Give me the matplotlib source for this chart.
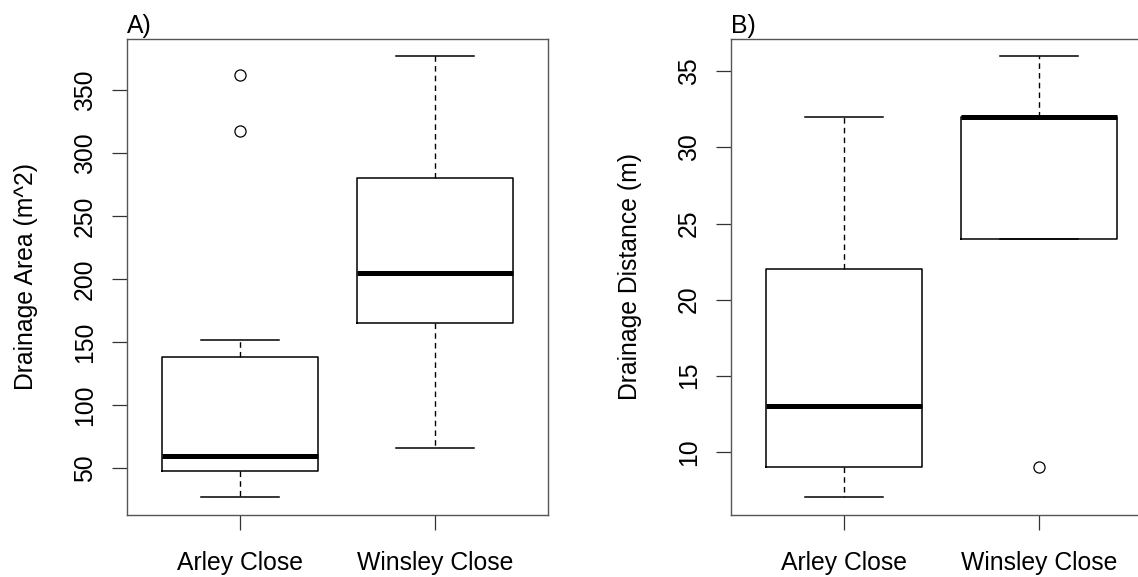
import matplotlib.pyplot as plt

plt.rcParams['font.family'] = ['Liberation Sans', 'DejaVu Sans']

groups = ["Arley Close", "Winsley Close"]

# drainage area (m^2) summary per site
area_lo = [27, 66]
area_q1 = [48, 165]
area_med = [60, 205]
area_q3 = [138, 280]
area_hi = [152, 377]
area_out = [[318, 362], []]

# drainage distance (m) summary per site
dist_lo = [7, 24]
dist_q1 = [9, 24]
dist_med = [13, 32]
dist_q3 = [22, 32]
dist_hi = [32, 36]
dist_out = [[], [9]]

area_ticks = [50, 100, 150, 200, 250, 300, 350]
dist_ticks = [10, 15, 20, 25, 30, 35]

FS = 17.8
W, H = 1138, 577
fig = plt.figure(figsize=(W / 100, H / 100), dpi=100)


def stats(lo, q1, med, q3, hi, out):
    return [dict(whislo=lo[i], q1=q1[i], med=med[i], q3=q3[i], whishi=hi[i],
                 fliers=out[i], label=groups[i]) for i in range(len(groups))]


def panel(rect, st, ticks, ylabel, tag):
    ax = fig.add_axes(rect)
    ax.bxp(st, positions=[1, 2], widths=0.8, capwidths=0.4, showfliers=True,
           boxprops=dict(color='black', linewidth=1.1),
           medianprops=dict(color='black', linewidth=3.6, solid_capstyle='butt'),
           whiskerprops=dict(color='black', linewidth=1.0, linestyle=(0, (4, 3))),
           capprops=dict(color='black', linewidth=1.1),
           flierprops=dict(marker='o', markerfacecolor='none', markeredgecolor='black',
                           markersize=8, markeredgewidth=0.9))
    # y range padded by 4% like R's boxplot
    vals = [v for s in st for v in (s['whislo'], s['whishi'], *s['fliers'])]
    lo, hi = min(vals), max(vals)
    pad = (hi - lo) * 0.04
    ax.set_ylim(lo - pad, hi + pad)
    ax.set_xlim(0.42, 2.58)
    ax.set_yticks(ticks)
    ax.set_yticklabels([str(t) for t in ticks], rotation=90, va='center', fontsize=FS)
    ax.set_xticks([1, 2])
    ax.set_xticklabels(groups, fontsize=FS)
    ax.tick_params(axis='y', length=10.8, width=0.9, pad=11, color='#333333')
    ax.tick_params(axis='x', length=10.8, width=0.9, pad=15, color='#333333')
    for sp in ax.spines.values():
        sp.set_color('#555555')
        sp.set_linewidth(1.0)
    ax.set_ylabel(ylabel, fontsize=FS, labelpad=25)
    ax.set_title(tag, loc='left', fontsize=FS, pad=3)
    return ax


bottom = (H - 515) / H
height = (515 - 38.5) / H
panel([127 / W, bottom, 421 / W, height],
      stats(area_lo, area_q1, area_med, area_q3, area_hi, area_out),
      area_ticks, "Drainage Area (m^2)", "A)")
panel([731 / W, bottom, 421 / W, height],
      stats(dist_lo, dist_q1, dist_med, dist_q3, dist_hi, dist_out),
      dist_ticks, "Drainage Distance (m)", "B)")

fig.savefig("out.png", dpi=100)
